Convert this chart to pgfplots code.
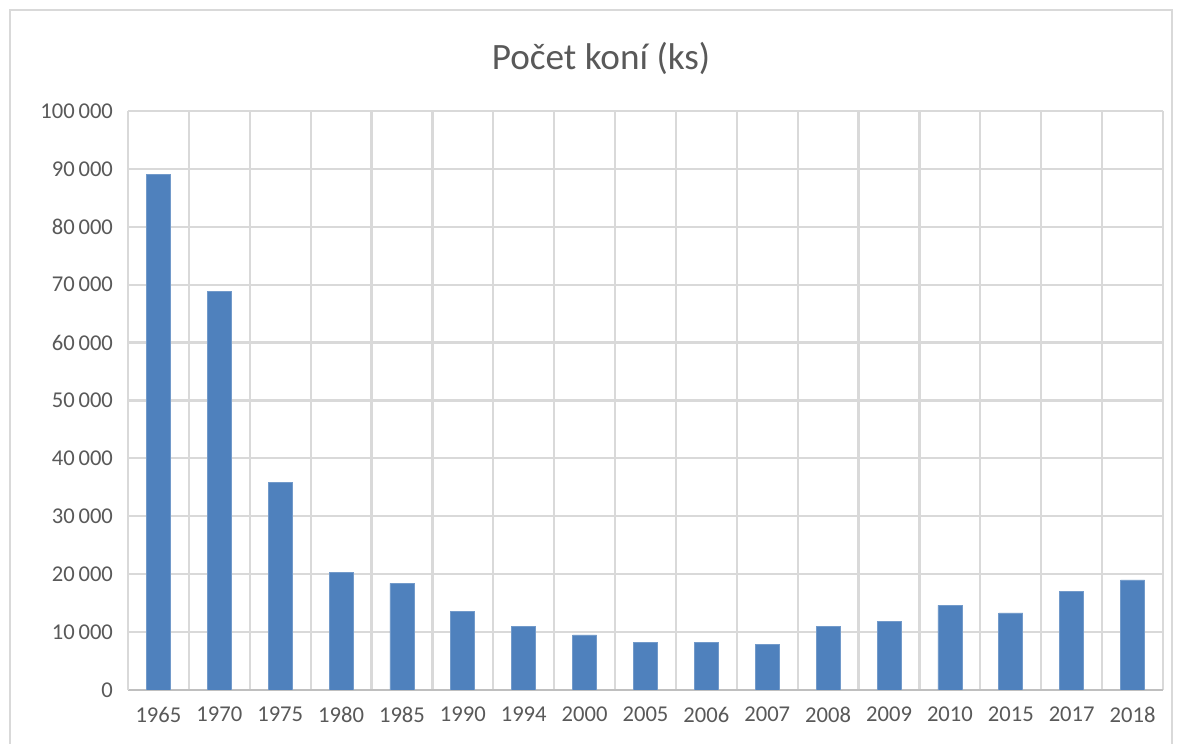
\documentclass[border=0pt]{standalone}
\usepackage{pgfplots}
\pgfplotsset{compat=1.18}
\usepackage{fontspec}
\setmainfont{Carlito}
\definecolor{barblue}{HTML}{4F81BD}
\definecolor{gridc}{HTML}{D9D9D9}
\definecolor{txt}{HTML}{595959}
\definecolor{axc}{HTML}{BFBFBF}
\begin{document}
\begin{tikzpicture}
\clip (-64pt,-27pt) rectangle (525.5pt,345pt);
\fill[white] (-64pt,-27pt) rectangle (525.5pt,345pt);
\begin{axis}[
  scale only axis,
  width=517.5pt, height=289.5pt,
  at={(0,0)}, anchor=south west,
  ybar, bar width=12pt, bar shift=0pt,
  xmin=-0.5, xmax=16.5,
  ymin=0, ymax=100000,
  xtick=data,
  xticklabels={1965,1970,1975,1980,1985,1990,1994,2000,2005,2006,2007,2008,2009,2010,2015,2017,2018},
  minor xtick={-0.5,0.5,...,16.5},
  ytick={0,10000,...,100000},
  scaled y ticks=false,
  /pgf/number format/.cd, fixed, precision=0, 1000 sep={\,}, assume math mode=true,
  /pgfplots/.cd,
  xmajorgrids=false, xminorgrids=true, ymajorgrids=true,
  grid style={gridc, line width=1.1pt},
  minor grid style={gridc, line width=1.1pt},
  major tick length=0pt, minor tick length=0pt,
  axis x line*=bottom, axis y line*=left,
  x axis line style={axc, line width=1pt, -},
  y axis line style={gridc, line width=1pt, -},
  tick label style={font=\fontsize{11.3}{13}\selectfont, text=txt},
  yticklabel style={xshift=-4pt},
  xticklabel style={yshift=-5pt},
]
\addplot[fill=barblue, draw=barblue!80!white, line width=0.4pt] coordinates {
(0,89000) (1,68800) (2,35800) (3,20300) (4,18400) (5,13500) (6,11050) (7,9500) (8,8200) (9,8200) (10,7900) (11,11000) (12,11900) (13,14600) (14,13300) (15,17000) (16,19000)
};
\end{axis}
\node[text=txt, font=\fontsize{18.6}{22}\selectfont] at (236.5pt,316pt) {Počet koní (ks)};
\draw[gridc, line width=1pt] (-59pt,-60pt) rectangle (522pt,340pt);
\end{tikzpicture}
\end{document}
